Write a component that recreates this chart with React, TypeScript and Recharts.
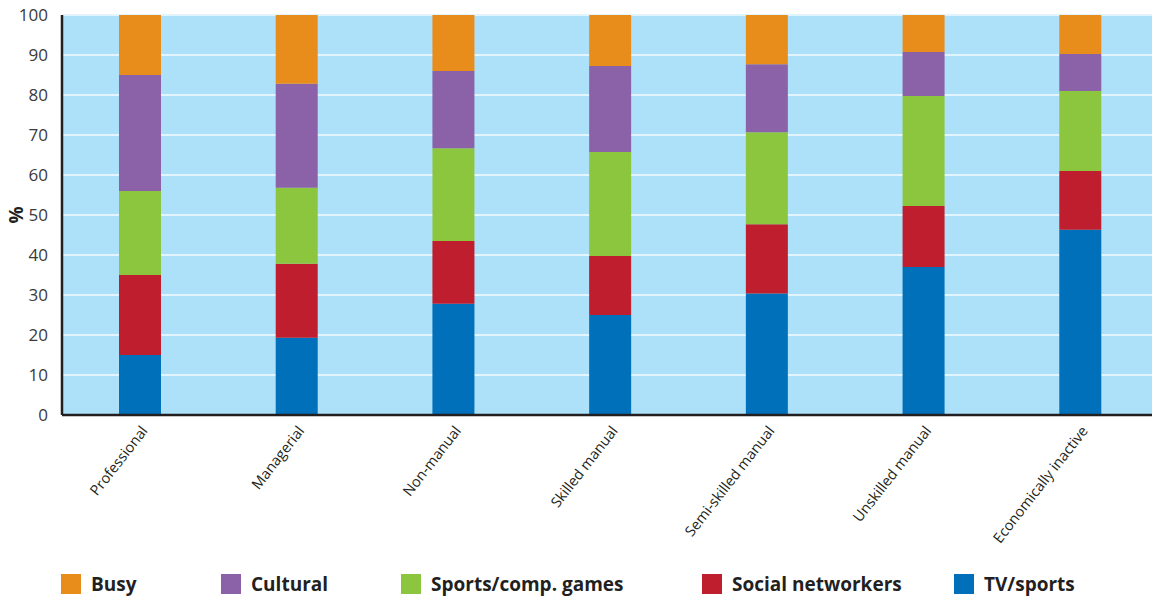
import { BarChart, Bar, XAxis, YAxis, CartesianGrid, Legend } from 'recharts';

const groups = [
  'Professional',
  'Managerial',
  'Non-manual',
  'Skilled manual',
  'Semi-skilled manual',
  'Unskilled manual',
  'Economically inactive',
];

// stacked bottom -> top
const tvSports = [15, 19.3, 27.8, 25, 30.4, 37, 46.3];
const socialNetworkers = [20, 18.5, 15.7, 14.75, 17.3, 15.25, 14.7];
const sportsGames = [21, 19, 23.2, 26, 23, 27.5, 20];
const cultural = [29, 26, 19.3, 21.5, 17, 11, 9.25];
const busy = [15, 17.2, 14, 12.75, 12.3, 9.25, 9.75];

const yTicks = [0, 10, 20, 30, 40, 50, 60, 70, 80, 90, 100];

const series = [
  { key: 'tv', name: 'TV/sports', color: '#0070BA', values: tvSports },
  { key: 'social', name: 'Social networkers', color: '#BE1E2D', values: socialNetworkers },
  { key: 'sports', name: 'Sports/comp. games', color: '#8CC63F', values: sportsGames },
  { key: 'cultural', name: 'Cultural', color: '#8B62A8', values: cultural },
  { key: 'busy', name: 'Busy', color: '#E88C1C', values: busy },
];

const data = groups.map((g, i) => {
  const row: Record<string, string | number> = { group: g };
  series.forEach((s) => (row[s.key] = s.values[i]));
  return row;
});

// legend item left edges (px), legend reads top series first
const legendLefts = [61, 221, 401, 702, 954];
const legendOrder = [...series].reverse();

const FONT = '"Open Sans", "Noto Sans", sans-serif';

const XTick = ({ x, y, payload }: any) => (
  <text
    x={x + 8}
    y={y + 8}
    transform={`rotate(-52, ${x + 8}, ${y + 8})`}
    textAnchor="end"
    fontFamily={FONT}
    fontSize={14.5}
    fill="#231F20"
  >
    {payload.value}
  </text>
);

const LegendBox = () => (
  <div style={{ position: 'relative', height: 45, width: 1152 }}>
    {legendOrder.map((s, i) => (
      <div
        key={s.key}
        style={{
          position: 'absolute',
          left: legendLefts[i],
          top: 20,
          display: 'flex',
          alignItems: 'center',
          fontFamily: FONT,
          fontWeight: 700,
          fontSize: 19,
          color: '#231F20',
          lineHeight: '20px',
          whiteSpace: 'nowrap',
        }}
      >
        <span style={{ width: 20, height: 20, background: s.color, marginRight: 10, display: 'inline-block' }} />
        {s.name}
      </div>
    ))}
  </div>
);

export default function App() {
  return (
    <div style={{ position: 'absolute', left: 0, top: 0, width: 1152, height: 599, background: '#fff', overflow: 'hidden' }}>
      <BarChart
        width={1152}
        height={599}
        data={data}
        margin={{ top: 15, right: -7, bottom: 0, left: 0 }}
        barSize={42}
      >
        <CartesianGrid vertical={false} fill="#ADE0F9" stroke="#E2F4FD" strokeWidth={2} />
        <XAxis
          dataKey="group"
          interval={0}
          height={139}
          tick={<XTick />}
          tickLine={false}
          axisLine={{ stroke: '#231F20', strokeWidth: 2.5 }}
        />
        <YAxis
          domain={[0, 100]}
          ticks={yTicks}
          width={62}
          tickLine={false}
          axisLine={{ stroke: '#231F20', strokeWidth: 2.5 }}
          tick={{ fontFamily: FONT, fontSize: 17, fill: '#3A3A3A' }}
          tickMargin={8}
          label={{
            value: '%',
            angle: -90,
            position: 'insideLeft',
            offset: 16,
            style: { fontFamily: FONT, fontSize: 19, fontWeight: 700, fill: '#231F20', textAnchor: 'middle' },
          }}
        />
        {series.map((s) => (
          <Bar key={s.key} dataKey={s.key} name={s.name} stackId="a" fill={s.color} isAnimationActive={false} />
        ))}
        <Legend verticalAlign="bottom" align="left" content={<LegendBox />} wrapperStyle={{ left: 0, width: 1152 }} />
      </BarChart>
    </div>
  );
}
